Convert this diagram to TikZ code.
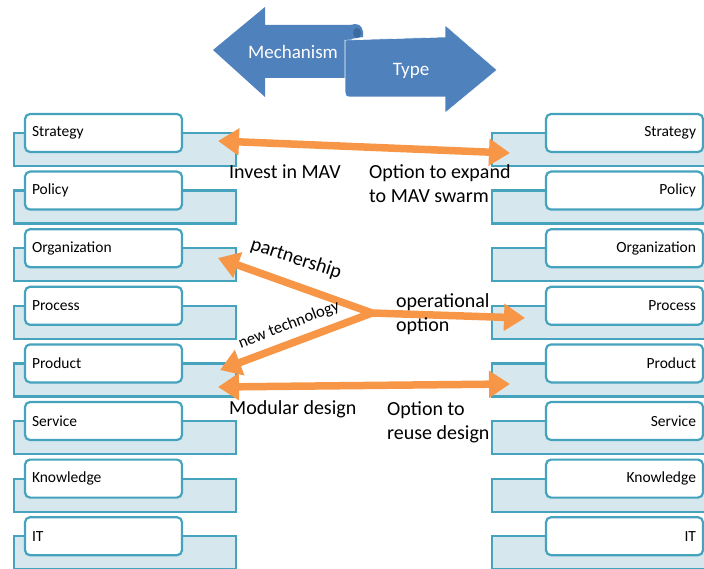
\documentclass[tikz,border=0pt]{standalone}
\usepackage{fontspec}
\setmainfont{Carlito}
\usetikzlibrary{arrows.meta}
\definecolor{tealb}{HTML}{45A3BE}
\definecolor{backfill}{HTML}{D6E7EE}
\definecolor{orng}{HTML}{F79646}
\definecolor{blu}{HTML}{4F81BD}
\definecolor{bludark}{HTML}{3B6A9E}
\begin{document}
\begin{tikzpicture}[x=1pt,y=-1pt,
 backbox/.style={draw=tealb, line width=2.2pt, fill=backfill, minimum width=222pt, minimum height=33pt, inner sep=0pt},
 labbox/.style={draw=tealb, line width=2.2pt, fill=white, rounded corners=5pt, minimum width=157pt, minimum height=38pt, inner sep=0pt, font=\fontsize{15.5}{17}\selectfont, text width=143pt},
 oarrow/.style={draw=orng, line width=7.5pt, -{Triangle[length=21pt,width=26pt]}},
 darr/.style={draw=orng, line width=7.5pt, {Triangle[length=21pt,width=26pt]}-{Triangle[length=21pt,width=26pt]}},
 lbl/.style={font=\fontsize{20}{24}\selectfont, align=left, inner sep=0pt, anchor=west},
 arrtext/.style={text=white, font=\fontsize{19}{21}\selectfont, inner sep=0pt}
]
\useasboundingbox (0,0) rectangle (704,569);
% rows
\foreach \t [count=\i from 0] in {Strategy,Policy,Organization,Process,Product,Service,Knowledge,IT}{
  \node[backbox] (LB\i) at (125,149.5+57.6*\i) {};
  \node[labbox, align=left] (L\i) at (103.5,133+57.6*\i) {\t};
  \node[backbox, minimum width=220pt] (RB\i) at (602,149.5+57.6*\i) {};
  \node[labbox, align=right] (R\i) at (624.5,133+57.6*\i) {\t};
}
% top arrows
\fill[blu] (213,50) -- (265,7) -- (265,25) -- (352,25) -- (352,78) -- (265,78) -- (265,97) -- cycle;
\fill[blu, draw=white, line width=0.6pt] (345,40) -- (445,37) -- (445,25) -- (497,70) -- (445,113) -- (445,97) -- (350,97) .. controls (346,97) and (345,95) .. (345,92) -- cycle;
\fill[blu] (345,40) .. controls (345,29) and (349,24) .. (355,24) .. controls (361,24) and (364,29) .. (363,37) -- (345,40) -- cycle;
\fill[bludark] (357,33) ellipse [x radius=4pt, y radius=5pt];
\node[arrtext] (mech) at (293,52) {Mechanism};
\node[arrtext] (type) at (411,71) {Type};
% orange arrows
\coordinate (s1) at (218,141);
\coordinate (s2) at (510,153);
\draw[darr] (s1) -- (s2);
\coordinate (hub) at (372,313);
\coordinate (pt) at (218,258);
\coordinate (nt) at (220,370);
\coordinate (op) at (525,318);
\draw[oarrow] (hub) -- (pt);
\draw[oarrow] (hub) -- (nt);
\draw[oarrow] (hub) -- (op);
\coordinate (m1) at (218,387);
\coordinate (m2) at (510,384);
\draw[darr] (m1) -- (m2);
% labels
\node[lbl] (inv) at (229,172) {Invest in MAV};
\node[lbl] (opt) at (369,184) {Option to expand\\to MAV swarm};
\node[font=\fontsize{20}{22}\selectfont, rotate=-18, inner sep=0pt] (part) at (296,259) {partnership};
\node[font=\fontsize{16.5}{18}\selectfont, rotate=21, inner sep=0pt] (newt) at (289,325) {new technology};
\node[lbl] (oper) at (396,314) {operational\\option};
\node[lbl] (mod) at (229,409) {Modular design};
\node[lbl] (reuse) at (387,422) {Option to\\reuse design};
\end{tikzpicture}
\end{document}
